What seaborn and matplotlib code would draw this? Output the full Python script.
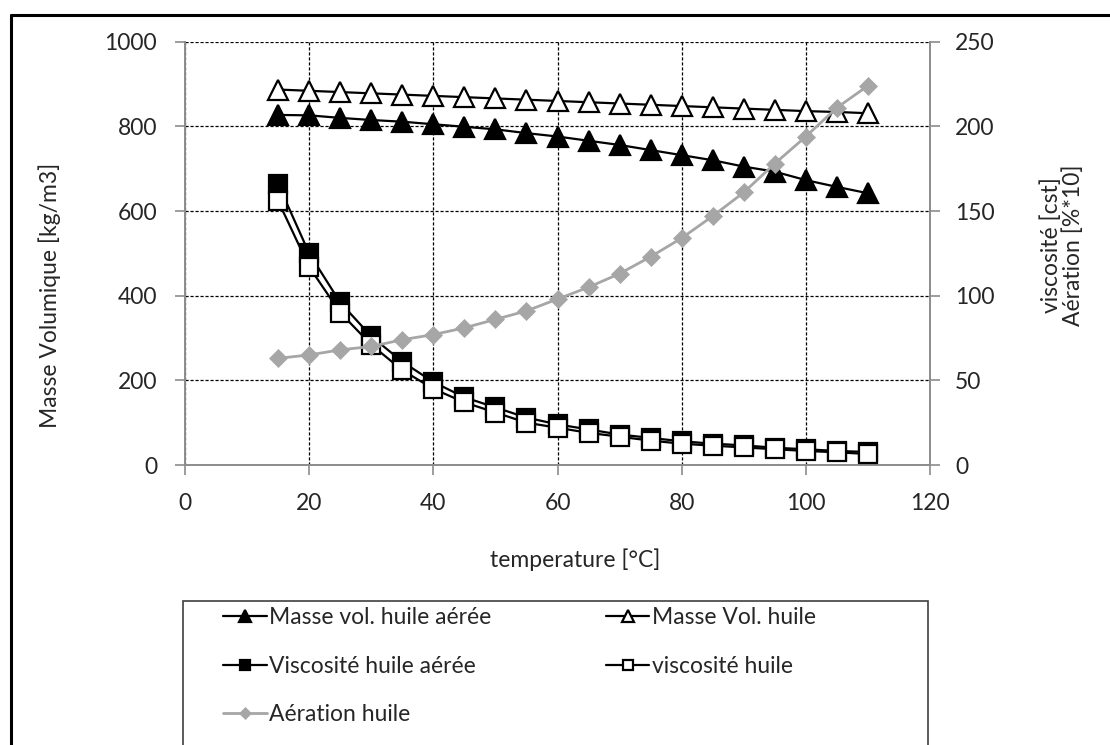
import numpy as np
import pandas as pd
import matplotlib
matplotlib.use("Agg")
import matplotlib.pyplot as plt
from matplotlib.lines import Line2D
from matplotlib.patches import Rectangle
import seaborn as sns

# values
temperature = [15, 20, 25, 30, 35, 40, 45, 50, 55, 60,
               65, 70, 75, 80, 85, 90, 95, 100, 105, 110]
masse_vol_aeree = [827, 826, 820, 815, 811, 805, 799, 793, 784, 776,
                   766, 756, 744, 732, 720, 705, 693, 673, 657, 642]
masse_vol_huile = [887, 884, 881, 878, 875, 872, 869, 866, 863, 860,
                   857, 854, 851, 848, 845, 842, 839, 836, 834, 831]
visc_aeree = [166, 125, 96, 76, 61, 49, 40, 34, 28, 24,
              21, 18, 16, 14, 12.6, 11.6, 10.2, 9.3, 8.3, 7.7]
visc_huile = [156, 117, 90, 71, 56, 45, 37, 31, 25, 22,
              19, 16.7, 14.4, 12.6, 11.4, 10.4, 9.3, 8.3, 7.5, 6.5]
aeration = [63, 65, 68, 70, 74, 77, 81, 86, 91, 98,
            105, 113, 123, 134, 147, 161, 178, 194, 211, 224]

x_ticks = [0, 20, 40, 60, 80, 100, 120]
y1_ticks = [0, 200, 400, 600, 800, 1000]
y2_ticks = [0, 50, 100, 150, 200, 250]

df = pd.DataFrame({"T": temperature, "mva": masse_vol_aeree, "mvh": masse_vol_huile,
                   "vha": visc_aeree, "vh": visc_huile, "aer": aeration})

sns.set_theme(style="white")
plt.rcParams["font.family"] = ["Lato", "DejaVu Sans"]
FS = 16.5
TXT = "#262626"
AXC = "#8c8c8c"
GRAY = "#a6a6a6"

fig = plt.figure(figsize=(11.1, 7.45), dpi=100)
W, H = 1110, 745
ax = fig.add_axes([185 / W, 1 - 465 / H, 745 / W, 423.3 / H])
ax2 = ax.twinx()

lw = 1.6
mew = 1.6
sns.lineplot(data=df, x="T", y="mva", ax=ax, color="black", lw=lw, marker="^",
             markersize=14, markerfacecolor="black", markeredgecolor="black",
             markeredgewidth=mew, label="Masse vol. huile aérée")
sns.lineplot(data=df, x="T", y="mvh", ax=ax, color="black", lw=lw, marker="^",
             markersize=14, markerfacecolor="white", markeredgecolor="black",
             markeredgewidth=mew, label="Masse Vol. huile")
sns.lineplot(data=df, x="T", y="vha", ax=ax2, color="black", lw=lw, marker="s",
             markersize=13, markerfacecolor="black", markeredgecolor="black",
             markeredgewidth=mew, label="Viscosité huile aérée")
sns.lineplot(data=df, x="T", y="vh", ax=ax2, color="black", lw=lw, marker="s",
             markersize=13, markerfacecolor="white", markeredgecolor="black",
             markeredgewidth=mew, label="viscosité huile")
sns.lineplot(data=df, x="T", y="aer", ax=ax2, color=GRAY, lw=2.0, marker="D",
             markersize=9.5, markerfacecolor=GRAY, markeredgecolor=GRAY,
             markeredgewidth=0.5, label="Aération huile")

h1, l1 = ax.get_legend_handles_labels()
h2, l2 = ax2.get_legend_handles_labels()
for a in (ax, ax2):
    if a.get_legend() is not None:
        a.get_legend().remove()

ax.set_xlim(0, 120)
ax.set_ylim(0, 1000)
ax2.set_ylim(0, 250)
ax.set_xticks(x_ticks)
ax.set_yticks(y1_ticks)
ax2.set_yticks(y2_ticks)
ax.set_xlabel("")
ax.set_ylabel("")
ax2.set_ylabel("")

ax.grid(True, color="black", linestyle=(0, (2.5, 1.5)), linewidth=0.9)
ax.set_axisbelow(True)
for s in ("top",):
    ax.spines[s].set_visible(False)
    ax2.spines[s].set_visible(False)
ax.spines["right"].set_visible(False)
for a, s in ((ax, "left"), (ax, "bottom"), (ax2, "right")):
    a.spines[s].set_color(AXC)
    a.spines[s].set_linewidth(1.4)
ax2.spines["left"].set_visible(False)
ax2.spines["bottom"].set_visible(False)

ax.tick_params(axis="both", direction="out", length=7, width=1.2, color=AXC,
               labelsize=FS, labelcolor=TXT, pad=13, left=True, bottom=True)
ax2.tick_params(axis="y", direction="out", length=7, width=1.2, color=AXC,
                labelsize=FS, labelcolor=TXT, pad=11, right=True)

fig.text(575 / W, 1 - 560 / H, "temperature [°C]", ha="center", va="center",
         fontsize=FS, color=TXT)
fig.text(50 / W, 1 - 295 / H, "Masse Volumique [kg/m3]", ha="center", va="center",
         rotation=90, fontsize=FS, color=TXT)
fig.text(1062 / W, 1 - 245 / H, "viscosité [cst]\nAération [%*10]", ha="center",
         va="center", rotation=90, fontsize=FS, color=TXT, multialignment="center",
         linespacing=1.05)

# legend: column 1 = first three entries, column 2 = last two
handles = [h1[0], h2[0], h2[2], h1[1], h2[1]]
labels = [l1[0], l2[0], l2[2], l1[1], l2[1]]
fig.legend(handles, labels, ncol=2, loc="upper left",
           bbox_to_anchor=(214 / W, 1 - 598 / H), frameon=False,
           fontsize=FS, labelcolor=TXT, markerscale=0.6, handlelength=1.9,
           handletextpad=0.1, columnspacing=5.0, labelspacing=1.2,
           borderaxespad=0)
fig.add_artist(Rectangle((183 / W, -0.05), (928 - 183) / W, (1 - 601 / H) + 0.05,
                         transform=fig.transFigure, fill=False,
                         edgecolor="#404040", linewidth=1.2))

# outer chart frame (left and top edges visible)
fig.add_artist(Line2D([11 / W, 11 / W], [-0.01, 1 - 15 / H],
                      transform=fig.transFigure, color="black", lw=2.2))
fig.add_artist(Line2D([11 / W, 1.01], [1 - 15 / H, 1 - 15 / H],
                      transform=fig.transFigure, color="black", lw=2.2))

fig.savefig("out.png", dpi=100)
